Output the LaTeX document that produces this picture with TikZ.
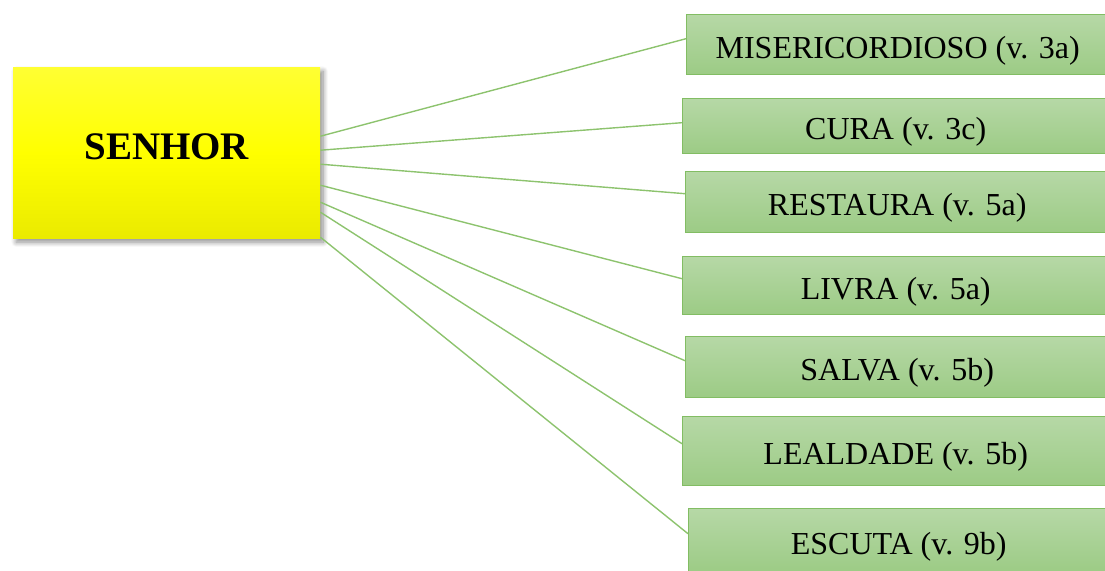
\documentclass[tikz,border=0pt]{standalone}
\usepackage{fontspec}
\setmainfont{Liberation Serif}
\usetikzlibrary{shadows.blur}
\definecolor{gtop}{HTML}{B6D8A6}
\definecolor{gbot}{HTML}{9CCB85}
\definecolor{gline}{HTML}{82BD63}
\definecolor{conn}{HTML}{8DC36E}
\tikzset{
  gbox/.style={draw=gline, line width=1.4pt, top color=gtop, bottom color=gbot,
    anchor=north west, inner sep=0pt, text height=27pt, text depth=0pt,
    font=\fontsize{32}{32}\selectfont},
  mainbox/.style={top color=yellow!80!white, bottom color=yellow!92!black, middle color=yellow,
    anchor=north west, inner sep=0pt, minimum width=307pt, minimum height=171pt,
    text height=25pt, text depth=11pt,
    font=\bfseries\fontsize{39}{39}\selectfont,
    blur shadow={shadow xshift=3pt, shadow yshift=-4pt, shadow blur radius=5pt, shadow blur steps=10, shadow opacity=45}},
  conline/.style={draw=conn, line width=1.4pt}
}
\begin{document}
\begin{tikzpicture}[x=1pt,y=-1pt]
\useasboundingbox (0,0) rectangle (1105,570);
\node[mainbox] (senhor) at (13,67) {SENHOR};
\node[gbox, minimum width=422pt, minimum height=60pt] (b1) at (686,14) {MISERICORDIOSO (v. 3a)};
\node[gbox, minimum width=426pt, minimum height=55pt] (b2) at (682,98) {CURA (v. 3c)};
\node[gbox, minimum width=423pt, minimum height=61pt] (b3) at (685,171) {RESTAURA (v. 5a)};
\node[gbox, minimum width=426pt, minimum height=58pt] (b4) at (682,256) {LIVRA (v. 5a)};
\node[gbox, minimum width=423pt, minimum height=61pt] (b5) at (685,336) {SALVA (v. 5b)};
\node[gbox, minimum width=426pt, minimum height=69pt] (b6) at (682,416) {LEALDADE (v. 5b)};
\node[gbox, minimum width=420pt, minimum height=64pt] (b7) at (688,508) {ESCUTA (v. 9b)};
\draw[conline] ([yshift=16.5pt]senhor.east) -- ([yshift=6pt]b1.west);
\draw[conline] ([yshift=2.5pt]senhor.east) -- ([yshift=3.5pt]b2.west);
\draw[conline] ([yshift=-11.5pt]senhor.east) -- ([yshift=8.5pt]b3.west);
\draw[conline] ([yshift=-32.5pt]senhor.east) -- ([yshift=7pt]b4.west);
\draw[conline] ([yshift=-49.5pt]senhor.east) -- ([yshift=6.5pt]b5.west);
\draw[conline] ([yshift=-59.5pt]senhor.east) -- ([yshift=7.5pt]b6.west);
\draw[conline] ([yshift=-84.5pt]senhor.east) -- ([yshift=7pt]b7.west);
\end{tikzpicture}
\end{document}
